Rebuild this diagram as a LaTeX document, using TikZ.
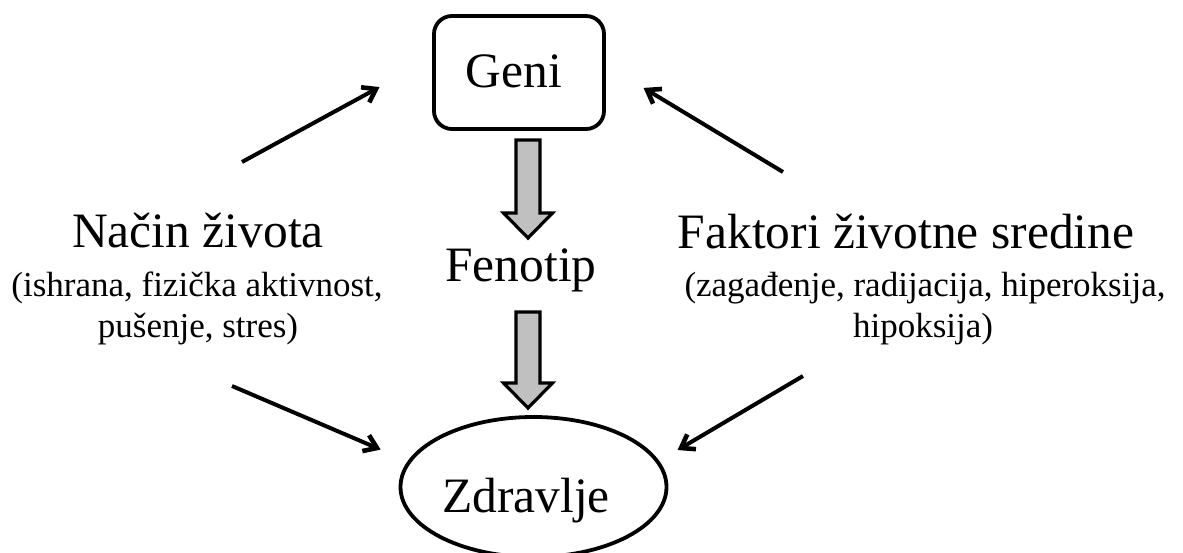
\documentclass[tikz,border=0pt]{standalone}
\usepackage{fontspec}
\setmainfont{Liberation Serif}
\usetikzlibrary{calc,shapes.geometric}
\definecolor{arrgray}{RGB}{192,192,192}
\tikzset{
  thinline/.style={line width=4pt},
  thinhead/.style={line width=4.6pt, line join=miter, miter limit=10},
  blockarr/.style={line width=3.2pt, draw=black, fill=arrgray, line join=miter},
  bigtext/.style={font=\fontsize{49.5}{59}\selectfont, inner sep=0pt, anchor=base},
  smalltext/.style={font=\fontsize{35}{42}\selectfont, inner sep=0pt, anchor=base},
}
\newcommand\myblockarrow[2]{%
  \draw[blockarr] ($(#1)+(-12,0)$) -- ($(#1)+(12,0)$) -- ($(#2)+(12,-25)$) -- ($(#2)+(24.5,-25)$) -- (#2) -- ($(#2)+(-24.5,-25)$) -- ($(#2)+(-12,-25)$) -- cycle;}
\newcommand\mythinarrow[2]{%
  \draw[thinline] (#1) -- ($(#2)!2pt!(#1)$);
  \draw[thinhead] ($(#2)!15pt!35:(#1)$) -- (#2) -- ($(#2)!15pt!-35:(#1)$);}
\begin{document}
\begin{tikzpicture}[x=1pt,y=-1pt]
\useasboundingbox (0,0) rectangle (1183,553);
% main nodes
\node[draw, line width=3.8pt, rounded corners=18pt, minimum width=170pt, minimum height=113pt, inner sep=0pt] (geni) at (519,72.5) {};
\node[bigtext] (genitxt) at (514,88) {Geni};
\node[bigtext] (fenotip) at (521,282) {Fenotip};
\node[draw, ellipse, line width=3.8pt, minimum width=266pt, minimum height=140pt, inner sep=0pt] (zdravlje) at (533.5,487) {};
\node[bigtext] (zdrtxt) at (526,512) {Zdravlje};
% left text
\node[bigtext] (nacin) at (198,248) {Način života};
\node[smalltext] (nacin2) at (197,297) {(ishrana, fizička aktivnost,};
\node[smalltext] (nacin3) at (198,337) {pušenje, stres)};
% right text
\node[bigtext] (faktori) at (906,249) {Faktori životne sredine};
\node[smalltext] (faktori2) at (925,297) {(zagađenje, radijacija, hiperoksija,};
\node[smalltext] (faktori3) at (923,337) {hipoksija)};
% block arrows
\coordinate (b1s) at (528,140);
\coordinate (b1e) at (528,238);
\coordinate (b2s) at (528,312);
\coordinate (b2e) at (528,408);
\myblockarrow{b1s}{b1e}
\myblockarrow{b2s}{b2e}
% thin arrows
\coordinate (la1) at (242,162);
\coordinate (la2) at (376,89);
\coordinate (lb1) at (232,386);
\coordinate (lb2) at (377,448);
\coordinate (ra1) at (783,172);
\coordinate (ra2) at (647,90);
\coordinate (rb1) at (803,376);
\coordinate (rb2) at (681,448);
\mythinarrow{la1}{la2}
\mythinarrow{lb1}{lb2}
\mythinarrow{ra1}{ra2}
\mythinarrow{rb1}{rb2}
\end{tikzpicture}
\end{document}
